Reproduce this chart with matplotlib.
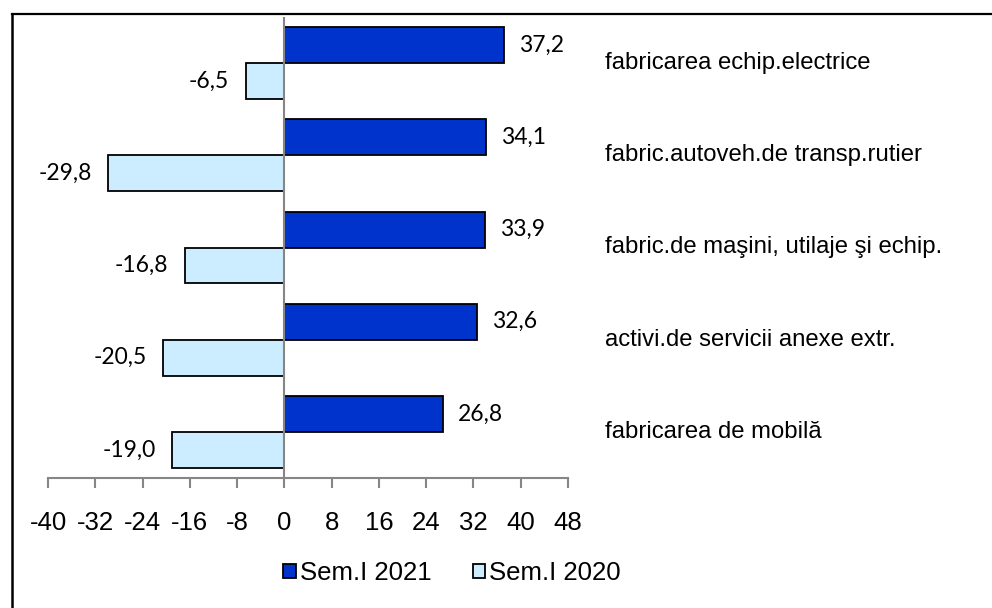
import numpy as np
import matplotlib
matplotlib.use('Agg')
import matplotlib.pyplot as plt
from matplotlib.lines import Line2D
from matplotlib.patches import Patch

plt.rcParams['font.family'] = ['Liberation Sans', 'DejaVu Sans']

categories = ['fabricarea echip.electrice', 'fabric.autoveh.de transp.rutier',
              'fabric.de maşini, utilaje şi echip.', 'activi.de servicii anexe extr.',
              'fabricarea de mobilă']
sem_2021 = [37.2, 34.1, 33.9, 32.6, 26.8]
sem_2020 = [-6.5, -29.8, -16.8, -20.5, -19.0]
xticks = [-40, -32, -24, -16, -8, 0, 8, 16, 24, 32, 40, 48]

dark = '#0033CC'
light = '#CCECFF'

W, H = 992, 608
fig = plt.figure(figsize=(W / 100, H / 100), dpi=100)
fig.patch.set_facecolor('white')
ax = fig.add_axes([48 / W, 1 - 478 / H, 520 / W, 461 / H])

y = np.arange(len(categories))
h = 0.39
ax.barh(y - h / 2, sem_2021, height=h, color=dark, edgecolor='black', linewidth=1.3, zorder=3)
ax.barh(y + h / 2, sem_2020, height=h, color=light, edgecolor='black', linewidth=1.3, zorder=3)

ax.set_xlim(-40, 48)
ax.set_ylim(len(categories) - 0.5, -0.5)
ax.axvline(0, color='#868686', lw=1.5, zorder=4)

def fmt(v):
    return f'{v:.1f}'.replace('.', ',')

for yi, v in zip(y, sem_2021):
    ax.annotate(fmt(v), (v, yi - h / 2), xytext=(11, 0), textcoords='offset points',
                ha='left', va='center', fontsize=16.5, family=['Lato', 'DejaVu Sans'])
for yi, v in zip(y, sem_2020):
    ax.annotate(fmt(v), (v, yi + h / 2), xytext=(-12, 0), textcoords='offset points',
                ha='right', va='center', fontsize=16.5, family=['Lato', 'DejaVu Sans'])

for yi, name in zip(y, categories):
    ax.annotate(name, (557 / 520, yi), xycoords=('axes fraction', 'data'),
                ha='left', va='center', fontsize=17.2, annotation_clip=False)

for s in ['top', 'right', 'left']:
    ax.spines[s].set_visible(False)
ax.spines['bottom'].set_color('#868686')
ax.spines['bottom'].set_linewidth(1.5)
ax.set_yticks([])
ax.set_xticks(xticks)
ax.set_xticklabels([str(t) for t in xticks], fontsize=18.5)
ax.tick_params(axis='x', direction='out', length=7, width=1.5, color='#868686', pad=17)

handles = [Patch(facecolor=dark, edgecolor='black', lw=1.3, label='Sem.I 2021'),
           Patch(facecolor=light, edgecolor='black', lw=1.3, label='Sem.I 2020')]
fig.legend(handles=handles, loc='center', bbox_to_anchor=(452 / W, 1 - 573 / H), ncol=2,
           frameon=False, fontsize=18.5, handlelength=0.5, handleheight=0.5,
           handletextpad=0.15, columnspacing=1.6, borderpad=0)

# outer frame (only top and left edges are visible)
fig.add_artist(Line2D([12 / W, 1], [1 - 14 / H, 1 - 14 / H], transform=fig.transFigure,
                      color='black', lw=1.6))
fig.add_artist(Line2D([12 / W, 12 / W], [0, 1 - 14 / H], transform=fig.transFigure,
                      color='black', lw=1.8))

fig.savefig('out.png', dpi=100, facecolor='white')
